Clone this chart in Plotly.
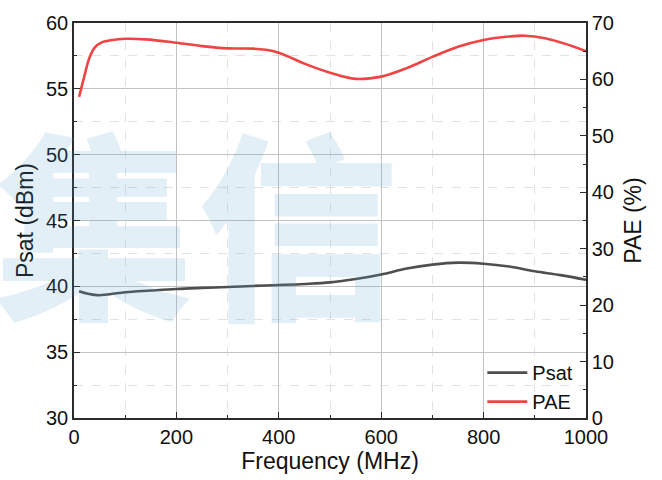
import plotly.graph_objects as go

# Saturated output power (dBm) vs frequency (MHz)
psat_freq = [10, 25, 45, 70, 100, 150, 200, 250, 300, 350, 400, 450, 500,
             550, 600, 650, 700, 750, 800, 850, 900, 950, 1000]
psat_dbm = [39.62, 39.45, 39.33, 39.40, 39.55, 39.68, 39.80, 39.88, 39.95, 40.03,
            40.10, 40.18, 40.30, 40.55, 40.90, 41.35, 41.65, 41.80, 41.72, 41.50,
            41.15, 40.85, 40.50]

# Power-added efficiency (%) vs frequency (MHz)
pae_freq = [10, 20, 30, 40, 55, 75, 100, 140, 200, 250, 300, 350, 390, 420, 450,
            500, 550, 600, 650, 700, 750, 800, 850, 880, 920, 960, 1000]
pae_pct = [56.9, 60.5, 63.8, 65.6, 66.6, 67.0, 67.2, 67.1, 66.5, 65.9, 65.5, 65.45,
           65.0, 64.0, 62.8, 61.2, 60.1, 60.5, 62.0, 64.0, 65.8, 67.0, 67.6, 67.75,
           67.3, 66.3, 65.0]

FONT = "Liberation Sans, Arial, sans-serif"
AXIS_COLOR = "#2b2b2b"

fig = go.Figure()
fig.add_trace(go.Scatter(x=psat_freq, y=psat_dbm, name="Psat", mode="lines",
                         line=dict(color="#4f4f4f", width=2.6, shape="spline"),
                         yaxis="y"))
fig.add_trace(go.Scatter(x=pae_freq, y=pae_pct, name="PAE", mode="lines",
                         line=dict(color="#ef4444", width=2.6, shape="spline"),
                         yaxis="y2"))

# Light blue watermark characters
for ch, px in (("集", 0.04), ("信", 0.4375)):
    fig.add_annotation(text=ch, xref="paper", yref="paper", x=px, y=0.51,
                       xanchor="center", yanchor="middle", showarrow=False,
                       font=dict(family="Noto Sans CJK SC", size=200, weight=900,
                                 color="rgba(91,160,210,0.17)"))

fig.update_layout(
    width=662, height=480,
    margin=dict(l=74, r=76, t=16, b=61),
    paper_bgcolor="white", plot_bgcolor="white",
    font=dict(family=FONT, size=20, color="#111"),
    showlegend=True,
    legend=dict(x=0.985, y=-0.008, xanchor="right", yanchor="bottom",
                bgcolor="rgba(0,0,0,0)", font=dict(size=20),
                itemwidth=40, tracegroupgap=0),
    xaxis=dict(
        range=[0, 1000], dtick=200, tick0=0,
        title=dict(text="Frequency (MHz)", font=dict(size=23), standoff=4),
        showline=True, linecolor=AXIS_COLOR, linewidth=1.5, mirror=True,
        ticks="inside", ticklen=6, tickcolor=AXIS_COLOR,
        showgrid=True, gridcolor="#c2c2c2", gridwidth=1,
        zeroline=False,
        minor=dict(dtick=100, ticks="inside", ticklen=3.5, tickcolor=AXIS_COLOR,
                   showgrid=True, gridcolor="#e2e2e2", griddash="dash"),
    ),
    yaxis=dict(
        range=[30, 60], dtick=5, tick0=30,
        title=dict(text="Psat (dBm)", font=dict(size=23), standoff=6),
        showline=True, linecolor=AXIS_COLOR, linewidth=1.5,
        ticks="inside", ticklen=6, tickcolor=AXIS_COLOR,
        showgrid=True, gridcolor="#c2c2c2", gridwidth=1,
        zeroline=False,
        minor=dict(dtick=2.5, ticks="inside", ticklen=3.5, tickcolor=AXIS_COLOR,
                   showgrid=True, gridcolor="#e2e2e2", griddash="dash"),
    ),
    yaxis2=dict(
        range=[0, 70], dtick=10, tick0=0,
        title=dict(text="PAE (%)", font=dict(size=23), standoff=12),
        overlaying="y", side="right",
        showline=True, linecolor=AXIS_COLOR, linewidth=1.5,
        ticks="inside", ticklen=6, tickcolor=AXIS_COLOR,
        showgrid=False, zeroline=False,
        minor=dict(dtick=5, ticks="inside", ticklen=3.5, tickcolor=AXIS_COLOR),
    ),
)

fig.write_html("out.html")
